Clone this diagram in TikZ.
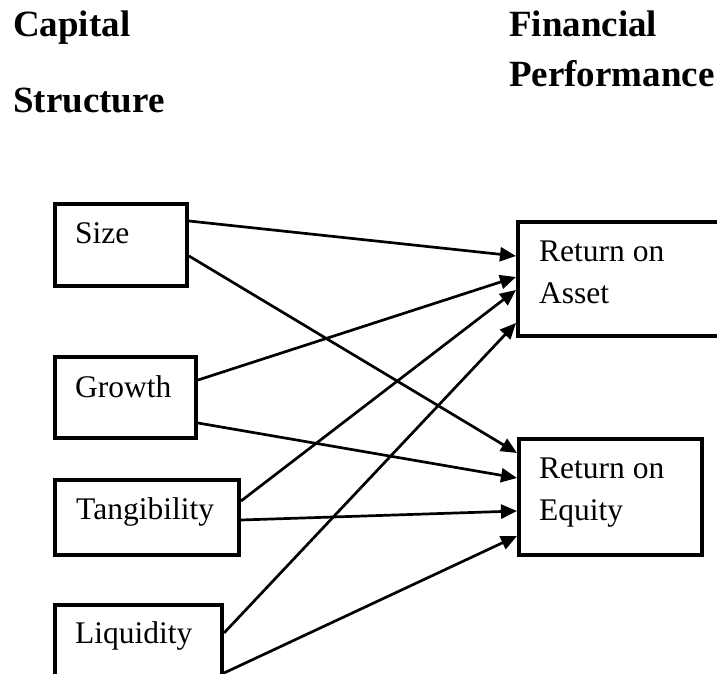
\documentclass[tikz,border=0pt]{standalone}
\usepackage{fontspec}
\setmainfont{Liberation Serif}
\usetikzlibrary{calc,arrows.meta}
\begin{document}
\begin{tikzpicture}[x=1pt,y=-1pt,
  box/.style={draw, line width=4pt, rectangle, anchor=north west, inner sep=0pt},
  txt/.style={anchor=base west, inner sep=0pt, font=\fontsize{31.5}{38}\selectfont},
  head/.style={anchor=base west, inner sep=0pt, font=\fontsize{37}{44}\selectfont\bfseries},
  link/.style={line width=2.7pt, -{Triangle[length=16pt,width=14pt]}}]
\useasboundingbox (0,0) rectangle (717,674);
\clip (0,0) rectangle (717,674);

% column headings
\node[head] (hcap)  at (13,37)  {Capital};
\node[head] (hstr)  at (13,113) {Structure};
\node[head] (hfin)  at (509,37) {Financial};
\node[head] (hperf) at (509,87) {Performance};

% determinants
\node[box, minimum width=132pt, minimum height=82pt] (size)   at (53,202) {};
\node[box, minimum width=141pt, minimum height=81pt] (growth) at (53,355) {};
\node[box, minimum width=184pt, minimum height=75pt] (tang)   at (53,478) {};
\node[box, minimum width=167pt, minimum height=83pt] (liq)    at (53,603) {};
\node[txt] (sizet)   at (75,243) {Size};
\node[txt] (growtht) at (75,397) {Growth};
\node[txt] (tangt)   at (76,519) {Tangibility};
\node[txt] (liqt)    at (75,643) {Liquidity};

% performance measures
\node[box, minimum width=220pt, minimum height=114pt] (roa) at (516,220) {};
\node[box, minimum width=183pt, minimum height=116pt] (roe) at (517,437) {};
\node[txt] (roat1) at (539,261) {Return on};
\node[txt] (roat2) at (539,303) {Asset};
\node[txt] (roet1) at (539,478) {Return on};
\node[txt] (roet2) at (539,520) {Equity};

% relationships
\draw[link] ($(size.north east)+(0,19)$)   -- ($(roa.north west)+(0,36)$);
\draw[link] ($(size.north east)+(0,54)$)   -- ($(roe.north west)+(0,16)$);
\draw[link] ($(growth.north east)+(0,25)$) -- ($(roa.north west)+(0,57)$);
\draw[link] ($(growth.north east)+(0,68)$) -- ($(roe.north west)+(0,41)$);
\draw[link] ($(tang.north east)+(0,23)$)   -- ($(roa.north west)+(0,70)$);
\draw[link] ($(tang.north east)+(0,42)$)   -- ($(roe.north west)+(0,74)$);
\draw[link] ($(liq.north east)+(0,30)$)    -- ($(roa.north west)+(0,103)$);
\draw[link] ($(liq.north east)+(0,70)$)    -- ($(roe.north west)+(0,99)$);
\end{tikzpicture}
\end{document}
